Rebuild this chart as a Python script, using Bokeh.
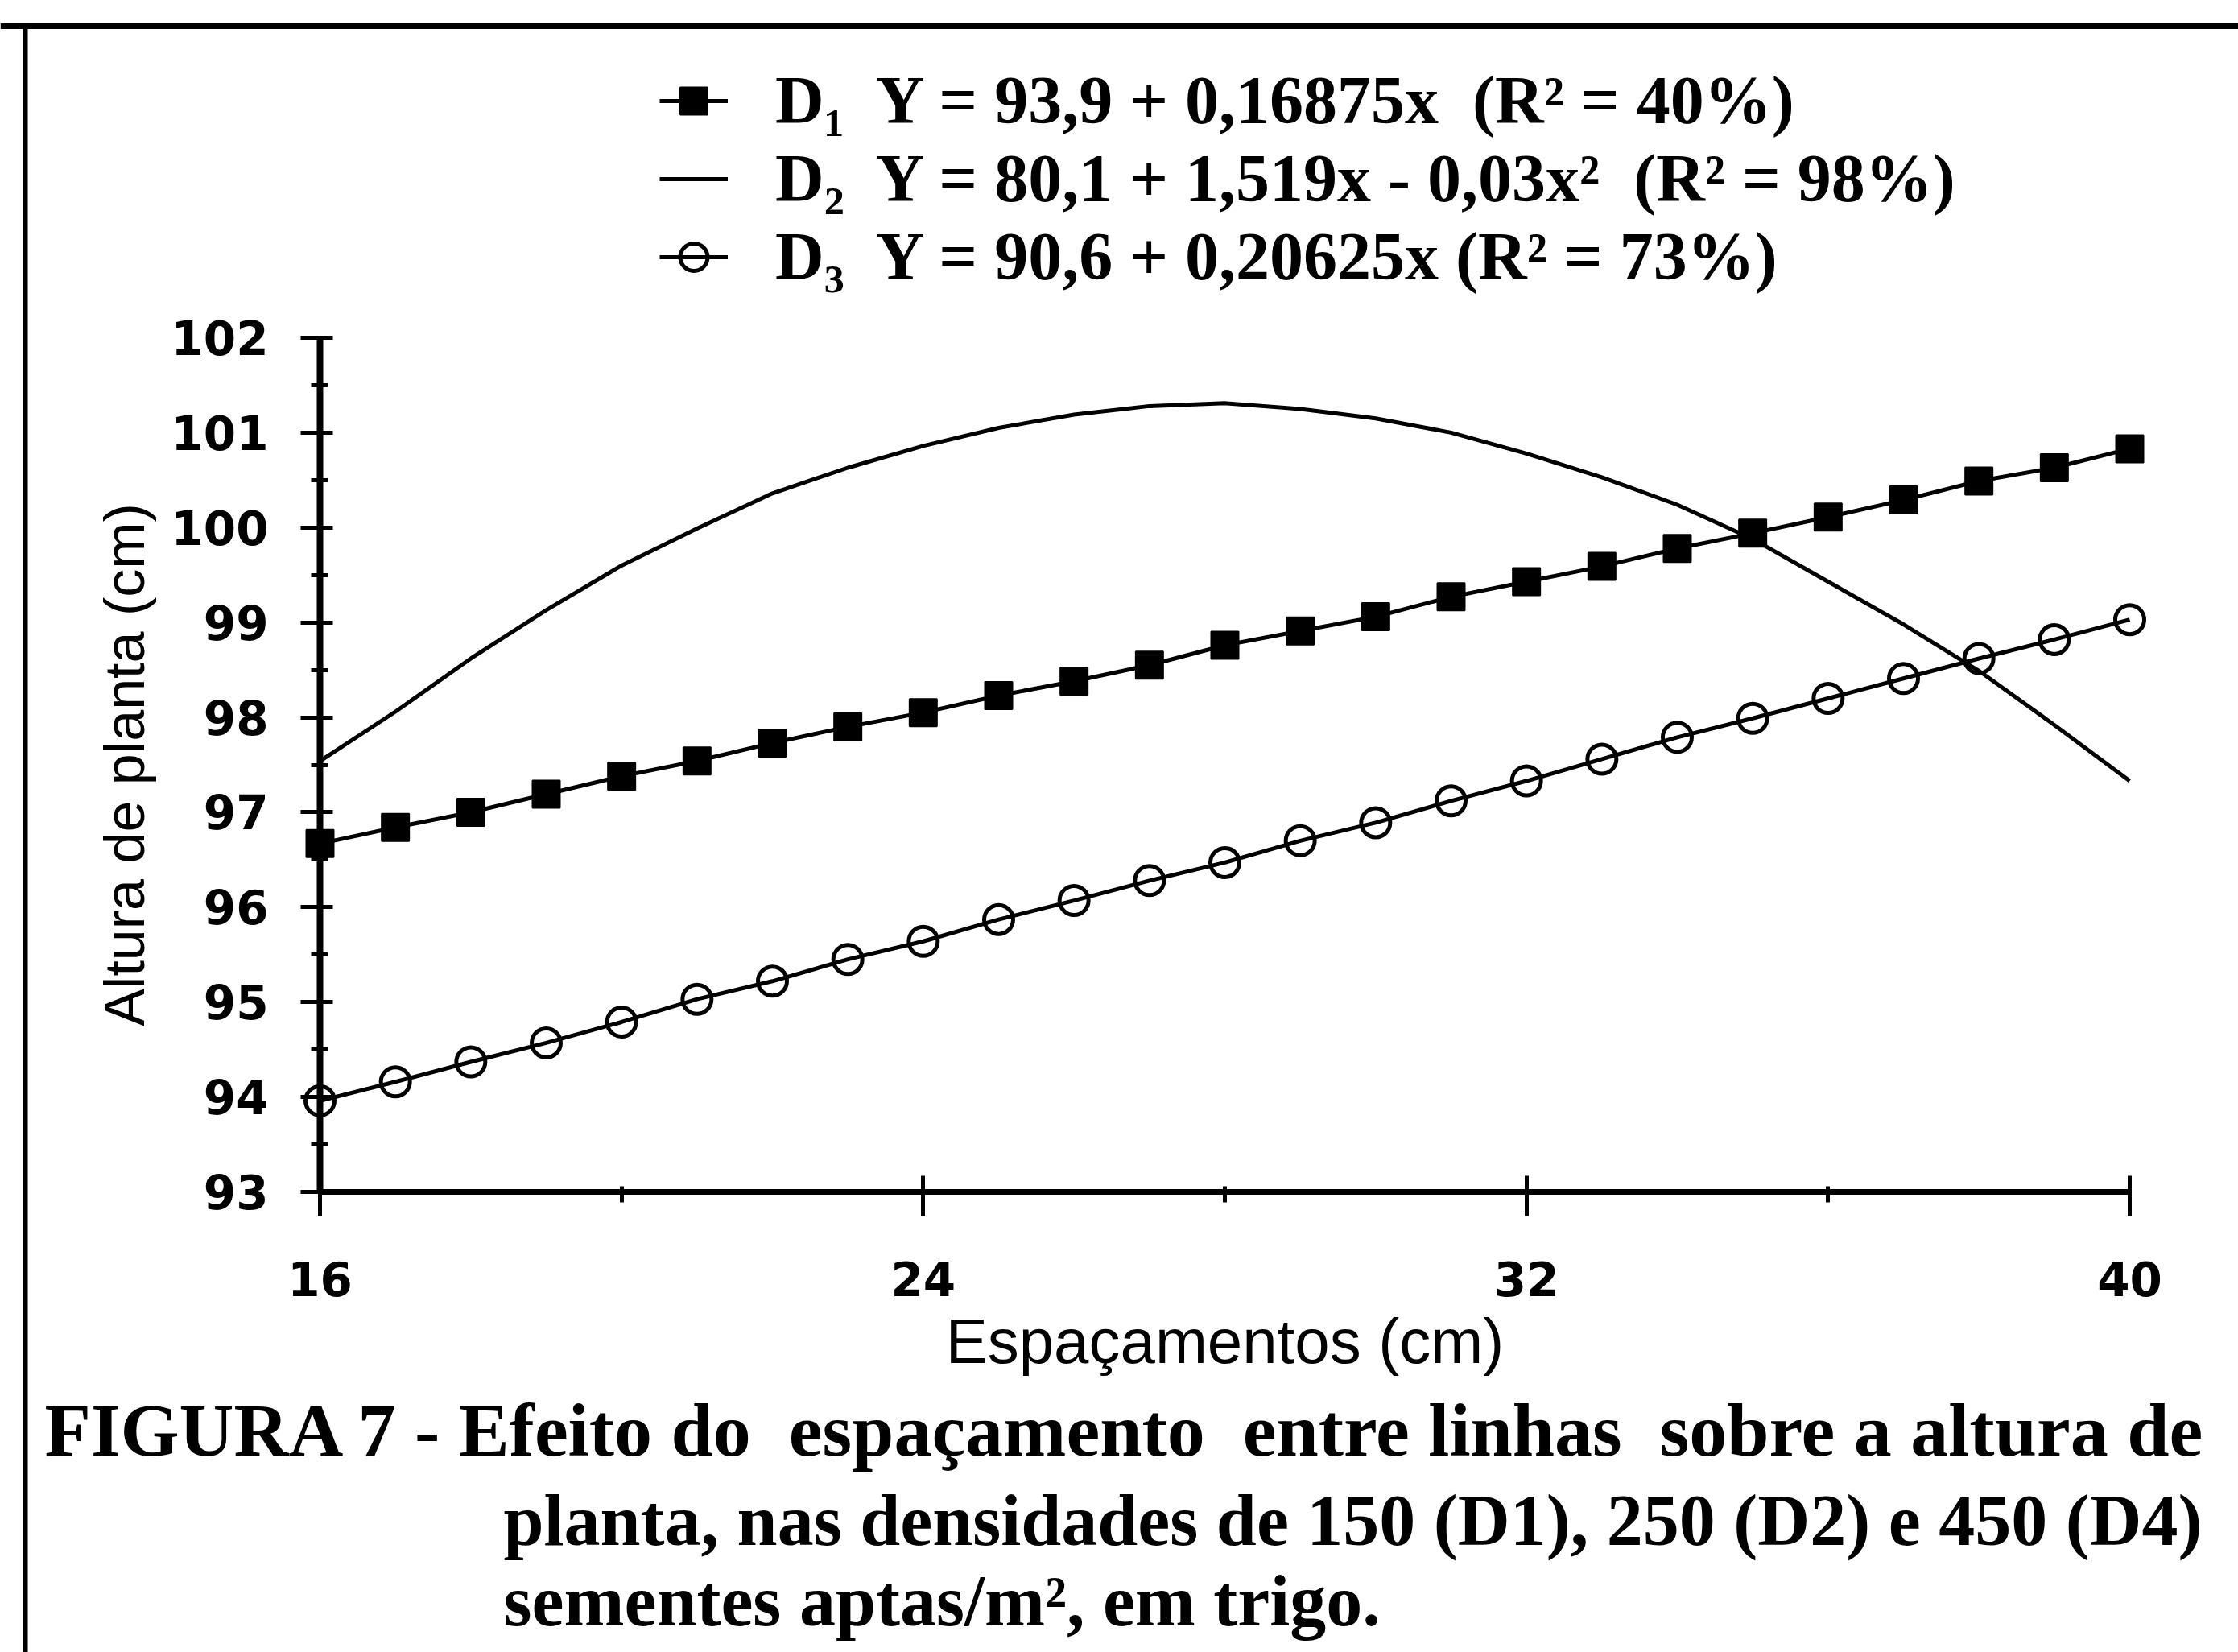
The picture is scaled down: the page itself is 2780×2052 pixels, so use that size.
from bokeh.plotting import figure
from bokeh.models import LinearAxis, FixedTicker, Range1d, Legend, LegendItem, Label
from bokeh.embed import file_html
from bokeh.resources import INLINE

# ---------------- data ----------------
espacamento = [16, 17, 18, 19, 20, 21, 22, 23, 24, 25, 26, 27, 28,
               29, 30, 31, 32, 33, 34, 35, 36, 37, 38, 39, 40]
d1 = [96.67, 96.84, 97.00, 97.19, 97.38, 97.54, 97.73, 97.90, 98.05, 98.23,
      98.38, 98.55, 98.76, 98.91, 99.06, 99.27, 99.43, 99.59, 99.78, 99.94,
      100.11, 100.29, 100.49, 100.63, 100.83]
d2 = [97.54, 98.06, 98.62, 99.13, 99.60, 99.99, 100.36, 100.63, 100.86, 101.05,
      101.19, 101.28, 101.31, 101.25, 101.15, 101.00, 100.78, 100.53, 100.24, 99.88,
      99.43, 98.98, 98.49, 97.92, 97.33]
d3 = [93.96, 94.16, 94.37, 94.57, 94.79, 95.03, 95.22, 95.45, 95.64, 95.87,
      96.07, 96.28, 96.47, 96.70, 96.89, 97.12, 97.33, 97.56, 97.79, 97.99,
      98.20, 98.41, 98.62, 98.82, 99.03]

y_ticks = [93, 94, 95, 96, 97, 98, 99, 100, 101, 102]
y_minor = [93.5, 94.5, 95.5, 96.5, 97.5, 98.5, 99.5, 100.5, 101.5]
x_ticks = [16, 24, 32, 40]
x_minor = [20, 28, 36]

NB = "\u00a0"
legend_labels = [
    "D\u2081" + NB + " Y = 93,9 + 0,16875x" + NB + " (R\u00b2 = 40%)",
    "D\u2082" + NB + " Y = 80,1 + 1,519x - 0,03x\u00b2" + NB + " (R\u00b2 = 98%)",
    "D\u2083" + NB + " Y = 90,6 + 0,20625x (R\u00b2 = 73%)",
]
caption_lines = [
    "FIGURA 7 - Efeito do" + NB + " espaçamento" + NB + " entre linhas" + NB + " sobre a altura de",
    "planta, nas densidades de 150 (D1), 250 (D2) e 450 (D4)",
    "sementes aptas/m², em trigo.",
]
x_label = "Espaçamentos (cm)"
y_label = "Altura de planta (cm)"

# ---------------- layout (pixels of the 2780x2052 page) ----------------
W, H = 2780, 2052
X16_PX, X40_PX = 397, 2645
Y102_PX, Y93_PX = 419, 1480
kx = (X40_PX - X16_PX) / (40 - 16)
ky = (Y93_PX - Y102_PX) / (102 - 93)
x_start = 16 - X16_PX / kx
x_end = x_start + W / kx
y_end = 102 + Y102_PX / ky
y_start = y_end - H / ky


def px2x(px):
    return x_start + px / kx


def px2y(py):
    return y_end - py / ky


p = figure(width=W, height=H, x_range=Range1d(x_start, x_end), y_range=Range1d(y_start, y_end),
           x_axis_type=None, y_axis_type=None, toolbar_location=None, output_backend="svg",
           min_border=0, outline_line_color=None,
           background_fill_color="white", border_fill_color="white")
p.xgrid.visible = False
p.ygrid.visible = False

# page frame lines (scan border)
p.segment(x0=[px2x(0), px2x(31)], y0=[px2y(32), px2y(32)],
          x1=[px2x(W), px2x(31)], y1=[px2y(32), px2y(H)],
          line_color="black", line_width=[7, 6])

# axes
yaxis = LinearAxis(fixed_location=16, bounds=(93, 102),
                   ticker=FixedTicker(ticks=y_ticks, minor_ticks=y_minor),
                   axis_label=y_label)
xaxis = LinearAxis(fixed_location=93, bounds=(16, 40),
                   ticker=FixedTicker(ticks=x_ticks, minor_ticks=x_minor),
                   axis_label=x_label)
for ax in (yaxis, xaxis):
    ax.axis_line_color = "black"
    ax.major_tick_line_color = "black"
    ax.minor_tick_line_color = "black"
    ax.major_tick_line_width = 5
    ax.minor_tick_line_width = 5
    ax.major_label_text_font = "DejaVu Sans"
    ax.major_label_text_font_style = "bold"
    ax.major_label_text_font_size = "58px"
    ax.major_label_text_color = "black"
    ax.axis_label_text_font = "Liberation Sans"
    ax.axis_label_text_font_style = "normal"
    ax.axis_label_text_color = "black"
yaxis.axis_line_width = 8
yaxis.major_tick_in = 16
yaxis.major_tick_out = 24
yaxis.minor_tick_in = 10
yaxis.minor_tick_out = 11
yaxis.major_label_standoff = 40
yaxis.axis_label_standoff = 15
yaxis.axis_label_text_font_size = "70px"
xaxis.axis_line_width = 7
xaxis.major_tick_in = 20
xaxis.major_tick_out = 30
xaxis.minor_tick_in = 7
xaxis.minor_tick_out = 13
xaxis.major_label_standoff = 56
xaxis.axis_label_standoff = 9
xaxis.axis_label_text_font_size = "78px"
p.add_layout(yaxis, "left")
p.add_layout(xaxis, "below")

# series
r2 = p.line(espacamento, d2, line_color="black", line_width=5)
r1l = p.line(espacamento, d1, line_color="black", line_width=5)
r1m = p.scatter(espacamento, d1, marker="square", size=34,
                fill_color="black", line_color="black", line_width=2)
r3l = p.line(espacamento, d3, line_color="black", line_width=5)
r3m = p.scatter(espacamento, d3, marker="circle", size=36,
                fill_color=None, line_color="black", line_width=5)

legend = Legend(items=[LegendItem(label=legend_labels[0], renderers=[r1l, r1m]),
                       LegendItem(label=legend_labels[1], renderers=[r2]),
                       LegendItem(label=legend_labels[2], renderers=[r3l, r3m])],
                location=(819, H - 367),
                label_text_font="Liberation Serif", label_text_font_style="bold",
                label_text_font_size="84px", label_text_color="black",
                glyph_width=85, glyph_height=90, label_standoff=59, label_height=97,
                spacing=0, padding=0, margin=0,
                border_line_color=None, background_fill_alpha=0)
p.add_layout(legend)

# caption (baseline pixel rows, corrected for Bokeh's label offset)
caption_x = [55, 625, 625]
caption_baseline = [1775, 1888, 1988]
caption_size = ["94px", "90px", "90px"]
for txt, cx, cb, fs in zip(caption_lines, caption_x, caption_baseline, caption_size):
    p.add_layout(Label(x=cx, y=H - cb, x_units="screen", y_units="screen", text=txt,
                       text_font="Liberation Serif", text_font_style="bold",
                       text_font_size=fs, text_color="black",
                       text_baseline="alphabetic", text_align="left"))

open("out.html", "w").write(file_html(p, INLINE))
